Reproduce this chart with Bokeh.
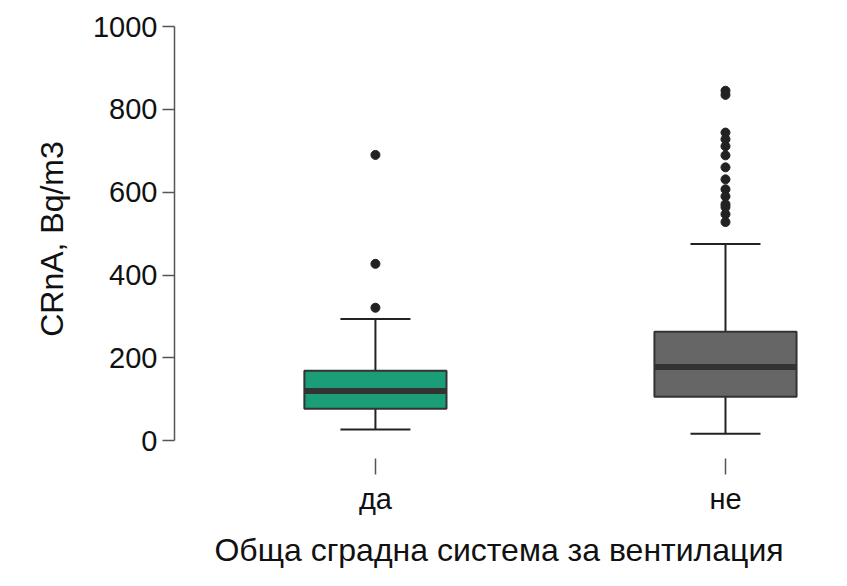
from bokeh.plotting import figure
from bokeh.models import FixedTicker, Range1d
from bokeh.embed import file_html
from bokeh.resources import INLINE

groups = ["да", "не"]
xpos = [1, 2]
q1 = [77, 106]
median = [120, 178]
q3 = [169, 263]
low = [27, 17]
high = [294, 475]
colors = ["#1b9e77", "#666666"]
outliers = [
    [321, 427, 690],
    [528, 547, 564, 571, 590, 607, 631, 660, 689, 711, 728, 744, 835, 845],
]

p = figure(width=831, height=570, output_backend="svg", toolbar_location=None,
           x_range=Range1d(0.426, 2.28), y_range=Range1d(-43, 1017),
           min_border_left=174, min_border_right=8, min_border_top=19, min_border_bottom=80)
p.outline_line_color = None
p.grid.visible = False

bw = 0.406
cap = 0.2
for i, x in enumerate(xpos):
    p.segment(x, low[i], x, q1[i], line_color="#222222", line_width=2)
    p.segment(x, q3[i], x, high[i], line_color="#222222", line_width=2)
    p.segment(x - cap / 2, low[i], x + cap / 2, low[i], line_color="#222222", line_width=2)
    p.segment(x - cap / 2, high[i], x + cap / 2, high[i], line_color="#222222", line_width=2)
    p.quad(left=x - bw / 2, right=x + bw / 2, bottom=q1[i], top=q3[i],
           fill_color=colors[i], line_color="#333333", line_width=2)
    p.segment(x - bw / 2, median[i], x + bw / 2, median[i], line_color="#333333", line_width=6)
    p.scatter([x] * len(outliers[i]), outliers[i], size=9, color="#222222")

p.yaxis.ticker = FixedTicker(ticks=[0, 200, 400, 600, 800, 1000])
p.yaxis.bounds = (0, 1000)
p.yaxis.axis_label = "CRnA, Bq/m3"
p.xaxis.ticker = FixedTicker(ticks=xpos)
p.xaxis.major_label_overrides = {1: groups[0], 2: groups[1]}
p.xaxis.axis_label = "Обща сградна система за вентилация"
p.xaxis.axis_line_color = None
p.xaxis.major_tick_out = 16
p.xaxis.major_tick_in = 0
p.xaxis.major_label_standoff = 8
p.yaxis.major_tick_out = 12
p.yaxis.major_tick_in = 0
p.yaxis.minor_tick_line_color = None
p.xaxis.minor_tick_line_color = None
for ax in [p.xaxis, p.yaxis]:
    ax.major_label_text_font = "Liberation Sans"
    ax.major_label_text_font_size = "29px"
    ax.major_label_text_color = "#111111"
    ax.axis_label_text_font = "Liberation Sans"
    ax.axis_label_text_font_size = "32px"
    ax.axis_label_text_font_style = "normal"
    ax.axis_label_text_color = "#111111"
    ax.axis_line_width = 1.5
    ax.major_tick_line_width = 1.5
p.yaxis.axis_line_color = "#555555"
p.yaxis.major_tick_line_color = "#555555"
p.xaxis.major_tick_line_color = "#555555"
p.yaxis.axis_label_standoff = 20
p.xaxis.axis_label_standoff = 14

open("out.html", "w").write(file_html(p, INLINE))
